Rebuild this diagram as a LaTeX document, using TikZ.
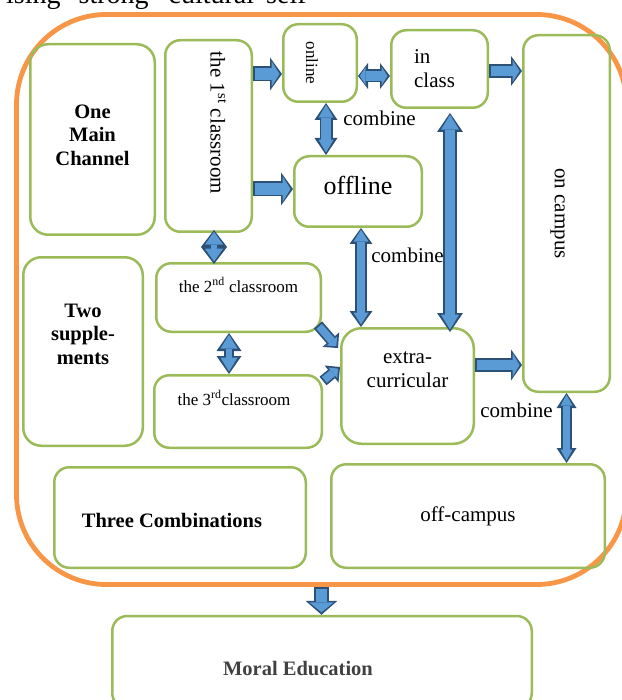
\documentclass[tikz,border=0pt]{standalone}
\usepackage{fontspec}
\setmainfont{Liberation Serif}
\usetikzlibrary{arrows.meta}

\definecolor{boxgreen}{HTML}{9BBB59}
\definecolor{frameorange}{HTML}{F79646}
\definecolor{arrowblue}{HTML}{5B9BD5}
\definecolor{arrowdark}{RGB}{44,80,118}

% block arrow: [tips]{shaft}{head width}{head length}{path}
\newcommand\fatarrow[5][->]{%
  \pgfmathsetlengthmacro\inshaft{#2-3.4pt}%
  \pgfmathsetlengthmacro\inwidth{#3-8pt}%
  \pgfmathsetlengthmacro\inlength{#4-4.2pt}%
  \draw[line width=#2, draw=arrowdark,
    >={Triangle[width=#3,length=#4,line width=0pt]}, #1] #5;
  \draw[line width=\inshaft, draw=arrowblue,
    >={Triangle[width=\inwidth,length=\inlength,line width=0pt]},
    shorten >=2.5pt, shorten <=1.8pt, #1] #5;
}

\begin{document}
\begin{tikzpicture}[x=1pt, y=-1pt,
  box/.style={draw=boxgreen, line width=2.5pt, rounded corners=15pt, inner sep=0pt},
  plaintxt/.style={font=\fontsize{21}{24}\selectfont, align=center, inner sep=0pt},
  smalltxt/.style={font=\fontsize{17}{20}\selectfont, align=center, inner sep=0pt},
  boldtxt/.style={font=\fontsize{20.5}{23.5}\selectfont\bfseries, align=center, inner sep=0pt}]
  \useasboundingbox (0,0) rectangle (621,700);

  % cut line of the page above
  \node[anchor=base west, inner sep=0pt, font=\fontsize{28}{28}\selectfont] (cutline) at (6,4)
    {ising\hspace{18pt}strong\hspace{20pt}cultural\hspace{12pt}self};

  \node[draw=frameorange, line width=4.8pt, rounded corners=90pt, inner sep=0pt,
    minimum width=610pt, minimum height=570pt] (frame) at (321.5,299.5) {};

  % left column
  \node[box, rounded corners=18pt, minimum width=124.5pt, minimum height=190.5pt,
    label={[boldtxt, yshift=4.5pt]center:{One\\Main\\Channel}}] (main) at (92.5,139.5) {};
  \node[box, rounded corners=18pt, minimum width=119.5pt, minimum height=188.5pt,
    label={[boldtxt, yshift=17.5pt]center:{Two\\supple-\\ments}}] (two) at (83,351.5) {};
  \node[box, minimum width=251.5pt, minimum height=100.5pt,
    label={[boldtxt, xshift=-8pt, yshift=-2.5pt]center:{Three Combinations}}] (three) at (180,517.5) {};

  % classrooms
  \node[box, minimum width=86.5pt, minimum height=191.5pt,
    label={[plaintxt, xshift=10pt, yshift=13pt]center:{\rotatebox{-90}{the 1\textsuperscript{st} classroom}}}] (first) at (208.5,136) {};
  \node[box, minimum width=164.5pt, minimum height=68.5pt,
    label={[smalltxt, yshift=12.5pt]center:{the 2\textsuperscript{nd} classroom}}] (second) at (238.5,297.5) {};
  \node[box, minimum width=167.5pt, minimum height=72.5pt,
    label={[smalltxt, xshift=-4pt, yshift=13.5pt]center:{the 3\textsuperscript{rd}classroom}}] (third) at (238,411.5) {};

  % combinations
  \node[box, minimum width=73.5pt, minimum height=77.5pt,
    label={[smalltxt, xshift=-8pt]center:{\rotatebox{-90}{online}}}] (online) at (320,63) {};
  \node[box, minimum width=127.5pt, minimum height=70.5pt,
    label={[plaintxt, font=\fontsize{26}{28}\selectfont, yshift=6pt]center:{offline}}] (offline) at (358,191.5) {};
  \node[box, minimum width=96.5pt, minimum height=77.5pt,
    label={[plaintxt, align=left, xshift=-5pt]center:{in\\class}}] (inclass) at (439.5,69) {};
  \node[box, rounded corners=20pt, minimum width=132.5pt, minimum height=115.5pt,
    label={[plaintxt, yshift=16.5pt]center:{extra-\\curricular}}] (extra) at (407.5,386) {};
  \node[box, minimum width=86.5pt, minimum height=356.5pt,
    label={[plaintxt, xshift=-9pt]center:{\rotatebox{-90}{on campus}}}] (oncampus) at (566.5,213.5) {};
  \node[box, minimum width=273.5pt, minimum height=103.5pt,
    label={[plaintxt]center:{off-campus}}] (offcampus) at (468,516) {};

  \node[box, minimum width=419.5pt, minimum height=92pt,
    label={[boldtxt, text=black!75, xshift=-24pt, yshift=-7pt]center:{Moral Education}}] (moral) at (322,662) {};

  % arrows
  \fatarrow{15pt}{33pt}{12pt}{([yshift=62pt]first.east) -- ([yshift=-11pt]online.west)}
  \fatarrow{15pt}{33pt}{12pt}{([yshift=-53pt]first.east) -- ([yshift=2.5pt]offline.west)}
  \fatarrow[<->]{13pt}{26pt}{10pt}{([yshift=-13pt]online.east) -- ([yshift=-7pt]inclass.west)}
  \fatarrow[<->]{13pt}{23pt}{17pt}{([xshift=6pt]online.south) -- ([xshift=-32pt]offline.north)}
  \fatarrow{14pt}{30pt}{11pt}{([yshift=-2pt]inclass.east) -- ([yshift=142.5pt]oncampus.west)}
  \fatarrow[<->]{14pt}{26pt}{19pt}{([xshift=10.5pt, yshift=-4pt]inclass.south) -- ([xshift=42.5pt, yshift=-5pt]extra.north)}
  \fatarrow[<->]{12pt}{23pt}{16pt}{([xshift=3pt]offline.south) -- ([xshift=-46.5pt]extra.north)}
  \fatarrow{14pt}{31pt}{11pt}{([yshift=21pt]extra.east) -- ([yshift=-151.5pt]oncampus.west)}
  \fatarrow[<->]{11pt}{20pt}{15pt}{(oncampus.south) -- (oncampus.south |- offcampus.north)}
  \fatarrow[<->]{10pt}{26pt}{17pt}{([xshift=5.5pt, yshift=3pt]first.south) -- ([xshift=-24.5pt, yshift=-2pt]second.north)}
  \fatarrow[<->]{10pt}{25pt}{18pt}{([xshift=-9.5pt]second.south) -- ([xshift=-9pt]third.north)}
  \fatarrow{11pt}{22pt}{11pt}{([xshift=-4pt, yshift=8pt]second.south east) -- ([xshift=-2pt, yshift=-21pt]extra.north west)}
  \fatarrow{11pt}{22pt}{11pt}{([yshift=-7pt]third.north east) -- ([yshift=19pt]extra.west)}
  \fatarrow{15pt}{32pt}{14pt}{(frame.south) -- (frame.south |- moral.north)}

  \node[plaintxt, anchor=base] (combine1) at (379.5,126) {combine};
  \node[plaintxt, anchor=base] (combine2) at (407.5,262) {combine};
  \node[plaintxt, anchor=base] (combine3) at (516.5,417) {combine};
\end{tikzpicture}
\end{document}
